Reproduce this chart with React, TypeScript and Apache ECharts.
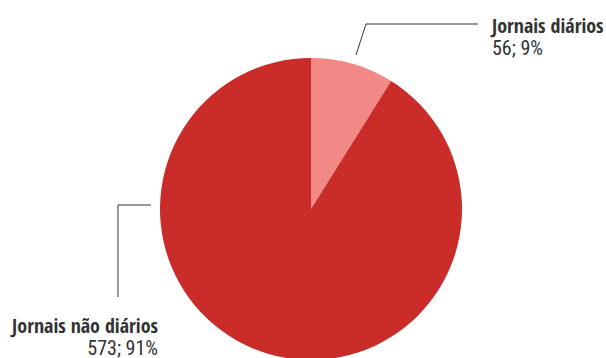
import React, { useEffect, useRef } from "react";
import * as echarts from "echarts";

const categories = ["Jornais diários", "Jornais não diários"];
const values = [56, 573];
const colors = ["#F38986", "#CA2D29"];

const FONT_B = "'Open Sans Condensed', 'Roboto Condensed', sans-serif";
const FONT_R = "'Roboto Condensed', sans-serif";

export default function App() {
  const ref = useRef<HTMLDivElement>(null);
  useEffect(() => {
    document.body.style.margin = "0";
    const chart = echarts.init(ref.current!, null, { renderer: "svg" });
    chart.setOption({
      animation: false,
      backgroundColor: "#ffffff",
      series: [
        {
          type: "pie",
          center: [311, 209],
          radius: 151,
          startAngle: 90,
          clockwise: true,
          percentPrecision: 0,
          data: categories.map((name, i) => ({
            name,
            value: values[i],
            itemStyle: { color: colors[i] },
          })),
          itemStyle: { borderWidth: 0 },
          label: {
            show: true,
            formatter: "{n|{b}}\n{v|{c}; {d}%}",
            rich: {
              n: { fontFamily: FONT_B, fontWeight: "bold", fontSize: 20, color: "#333333", lineHeight: 24 },
              v: { fontFamily: FONT_R, fontWeight: "normal", fontSize: 20, color: "#333333", lineHeight: 22 },
            },
          },
          labelLine: { show: true, lineStyle: { color: "#333333", width: 1 } },
          labelLayout: (p: any) => {
            if (p.dataIndex === 0) {
              return {
                x: 492,
                y: 13,
                align: "left",
                verticalAlign: "top",
                labelLinePoints: [[356, 55], [366, 24], [478, 24]],
              };
            }
            return {
              x: 158,
              y: 313,
              align: "right",
              verticalAlign: "top",
              labelLinePoints: [[151, 205], [118, 205], [118, 297]],
            };
          },
        },
      ],
    });
    return () => chart.dispose();
  }, []);
  return <div ref={ref} style={{ width: 606, height: 358 }} />;
}
